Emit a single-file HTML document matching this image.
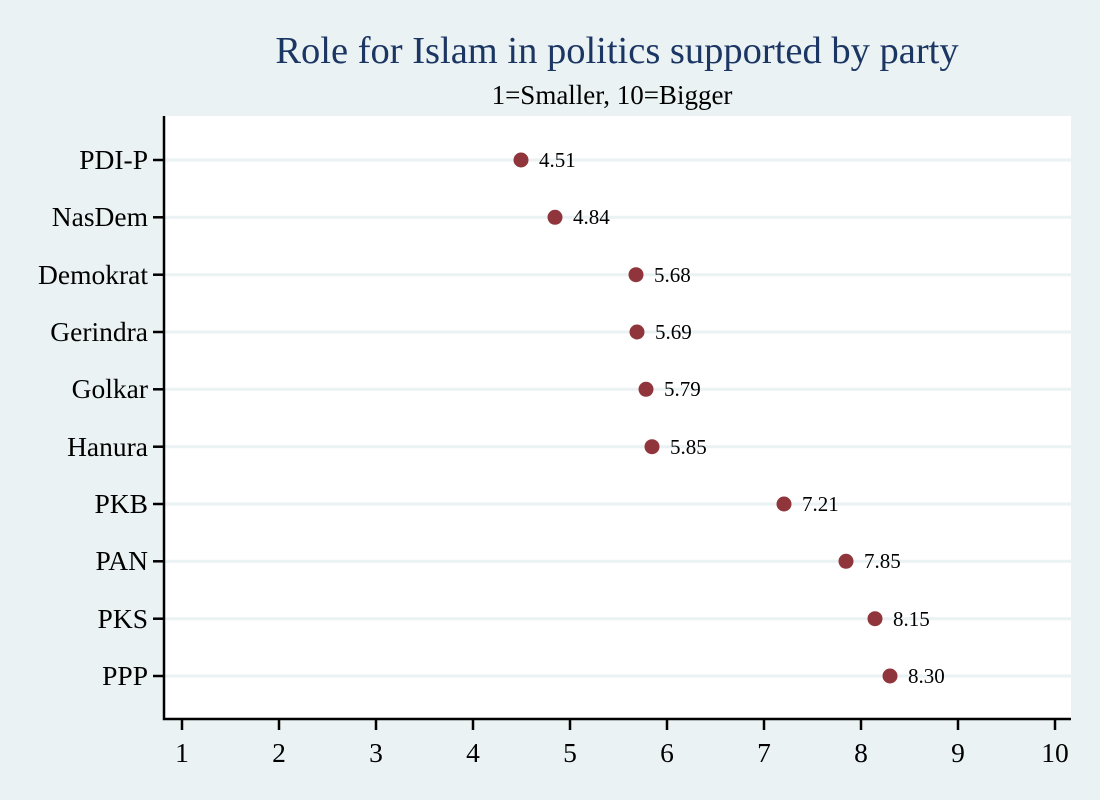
<!DOCTYPE html>
<html><head><meta charset="utf-8"><style>
body{margin:0;background:#eaf2f3}
svg{display:block}
text{font-family:"Liberation Serif",serif}
</style></head><body>
<svg width="1100" height="800" viewBox="0 0 1100 800" font-family="Liberation Serif, serif">
<rect width="1100" height="800" fill="#eaf2f3"/>
<rect x="164" y="116" width="907" height="603" fill="#fff"/>
<text x="617" y="63" font-size="38.5" fill="#1c3664" text-anchor="middle" font-family="Liberation Serif, serif">Role for Islam in politics supported by party</text>
<text x="612" y="104" font-size="27" fill="#000" text-anchor="middle" font-family="Liberation Serif, serif">1=Smaller, 10=Bigger</text>
<g stroke="#eaf2f3" stroke-width="3">
<line x1="164" x2="1071" y1="160" y2="160"/><line x1="164" x2="1071" y1="217.3" y2="217.3"/>
<line x1="164" x2="1071" y1="274.7" y2="274.7"/><line x1="164" x2="1071" y1="332" y2="332"/>
<line x1="164" x2="1071" y1="389.3" y2="389.3"/><line x1="164" x2="1071" y1="446.7" y2="446.7"/>
<line x1="164" x2="1071" y1="504" y2="504"/><line x1="164" x2="1071" y1="561.3" y2="561.3"/>
<line x1="164" x2="1071" y1="618.7" y2="618.7"/><line x1="164" x2="1071" y1="676" y2="676"/>
</g>
<g stroke="#000" stroke-width="2.5" fill="none">
<polyline points="164,116 164,719 1071,719"/>
<line x1="153" x2="164" y1="160" y2="160"/><line x1="153" x2="164" y1="217.3" y2="217.3"/>
<line x1="153" x2="164" y1="274.7" y2="274.7"/><line x1="153" x2="164" y1="332" y2="332"/>
<line x1="153" x2="164" y1="389.3" y2="389.3"/><line x1="153" x2="164" y1="446.7" y2="446.7"/>
<line x1="153" x2="164" y1="504" y2="504"/><line x1="153" x2="164" y1="561.3" y2="561.3"/>
<line x1="153" x2="164" y1="618.7" y2="618.7"/><line x1="153" x2="164" y1="676" y2="676"/>
<line x1="182" x2="182" y1="719" y2="730"/><line x1="279" x2="279" y1="719" y2="730"/>
<line x1="376" x2="376" y1="719" y2="730"/><line x1="473" x2="473" y1="719" y2="730"/>
<line x1="570" x2="570" y1="719" y2="730"/><line x1="667" x2="667" y1="719" y2="730"/>
<line x1="764" x2="764" y1="719" y2="730"/><line x1="861" x2="861" y1="719" y2="730"/>
<line x1="958" x2="958" y1="719" y2="730"/><line x1="1055" x2="1055" y1="719" y2="730"/>
</g>
<g font-size="27.5" text-anchor="end">
<text x="148" y="169">PDI-P</text><text x="148" y="226">NasDem</text>
<text x="148" y="284">Demokrat</text><text x="148" y="341">Gerindra</text>
<text x="148" y="398">Golkar</text><text x="148" y="456">Hanura</text>
<text x="148" y="513">PKB</text><text x="148" y="570">PAN</text>
<text x="148" y="628">PKS</text><text x="148" y="685">PPP</text>
</g>
<g font-size="27.5" text-anchor="middle">
<text x="182" y="762">1</text><text x="279" y="762">2</text><text x="376" y="762">3</text>
<text x="473" y="762">4</text><text x="570" y="762">5</text><text x="667" y="762">6</text>
<text x="764" y="762">7</text><text x="861" y="762">8</text><text x="958" y="762">9</text>
<text x="1055" y="762">10</text>
</g>
<g fill="#90353b">
<circle cx="521" cy="160" r="7.5"/><circle cx="555" cy="217.3" r="7.5"/>
<circle cx="636" cy="274.7" r="7.5"/><circle cx="637" cy="332" r="7.5"/>
<circle cx="646" cy="389.3" r="7.5"/><circle cx="652" cy="446.7" r="7.5"/>
<circle cx="784" cy="504" r="7.5"/><circle cx="846" cy="561.3" r="7.5"/>
<circle cx="875" cy="618.7" r="7.5"/><circle cx="890" cy="676" r="7.5"/>
</g>
<g font-size="21">
<text x="539" y="167">4.51</text><text x="573" y="224">4.84</text>
<text x="654" y="282">5.68</text><text x="655" y="339">5.69</text>
<text x="664" y="396">5.79</text><text x="670" y="454">5.85</text>
<text x="802" y="511">7.21</text><text x="864" y="568">7.85</text>
<text x="893" y="626">8.15</text><text x="908" y="683">8.30</text>
</g>
</svg>
</body></html>
